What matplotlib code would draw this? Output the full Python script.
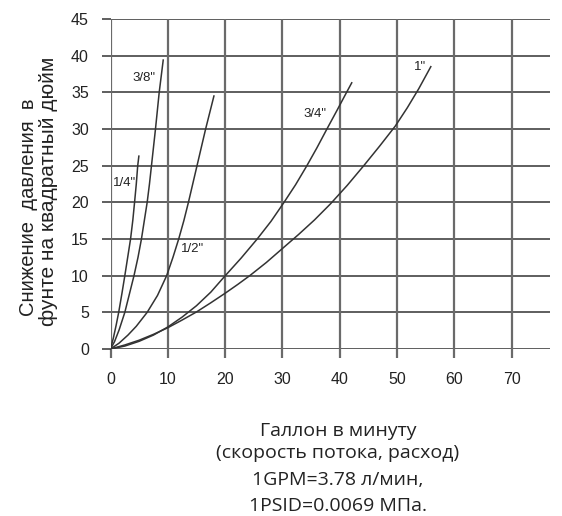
import matplotlib
matplotlib.use("Agg")
import matplotlib.pyplot as plt

# ---- data ----
x_quarter = [0, 0.5, 1.0, 1.43, 2.0, 2.5, 3.0, 3.5, 3.9, 4.2, 4.5, 4.75, 4.95]
y_quarter = [0, 1.5, 3.3, 5, 7.6, 10, 12.5, 15, 17.6, 20, 22.5, 25, 26.3]

x_three_eighths = [0, 0.7, 1.5, 2.5, 3.3, 4.1, 4.8, 5.4, 5.9, 6.4, 6.8, 7.15, 7.5, 7.85, 8.5, 9.2]
y_three_eighths = [0, 1, 2.6, 5, 7.5, 10, 12.5, 15, 17.5, 20, 22.5, 25, 27.5, 30, 35, 39.4]

x_half = [0, 1.5, 3.05, 4.5, 6.4, 8.2, 9.8, 10.9, 11.9, 12.8, 13.6, 14.35, 15.1, 16.6, 18.05]
y_half = [0, 0.8, 1.9, 3.1, 5, 7.3, 10, 12.5, 15, 17.5, 20, 22.5, 25, 30, 34.5]

x_three_quarter = [0, 2.5, 5, 7.5, 10, 12.5, 15, 17.5, 19.8, 22.8, 25.6, 28, 30.2,
                   32.3, 34.2, 36, 37.7, 39.5, 41.2, 42.1]
y_three_quarter = [0, 0.4, 1.05, 1.9, 3.0, 4.35, 5.9, 7.75, 9.8, 12.4, 15, 17.4, 19.9,
                   22.4, 24.9, 27.4, 29.9, 32.5, 35, 36.3]

x_one = [0, 2.5, 5, 7.5, 10, 12.5, 15, 17.5, 20, 22.2, 24.3, 27.2, 30, 32.8, 35.6,
         38.4, 41.3, 44.2, 47.0, 49.7, 51.8, 53.8, 55.9]
y_one = [0, 0.55, 1.2, 2.0, 2.9, 3.95, 5.05, 6.3, 7.6, 8.8, 10, 11.8, 13.7, 15.6, 17.6,
         19.8, 22.3, 25, 27.7, 30.4, 32.9, 35.5, 38.5]

curve_labels = ['1/4"', '3/8"', '1/2"', '3/4"', '1"']
label_pos = [(2.5, 22.6), (5.85, 37.0), (14.3, 13.6), (35.7, 32.0), (54.1, 38.4)]

x_ticks = [0, 10, 20, 30, 40, 50, 60, 70]
y_ticks = [0, 5, 10, 15, 20, 25, 30, 35, 40, 45]

y_label_lines = ["Снижение  давления  в", "фунте на квадратный дюйм"]
x_label_lines = ["Галлон в минуту", "(скорость потока, расход)",
                 "1GPM=3.78 л/мин,", "1PSID=0.0069 МПа."]

# ---- figure ----
fig = plt.figure(figsize=(5.62, 5.16), dpi=100)
ax = fig.add_axes([110.5 / 562, 1 - 349 / 516, (550 - 110.5) / 562, (349 - 19) / 516])
ax.set_xlim(0, 76.7)
ax.set_ylim(0, 45)

hcol = '#333333'
vcol = '#6a6a6a'
for yv in y_ticks:
    ax.axhline(yv, color=hcol, lw=1.1, zorder=1)
for xv in x_ticks:
    ax.axvline(xv, color=vcol, lw=1.6, zorder=1)

for s in ax.spines.values():
    s.set_visible(False)

ax.set_xticks(x_ticks)
ax.set_yticks(y_ticks)
ax.tick_params(axis='x', length=6.5, width=1.6, color=vcol, pad=10,
               labelsize=11.5)
ax.tick_params(axis='y', length=6.5, width=1.1, color=hcol, pad=9,
               labelsize=11.5)
for lab in ax.get_xticklabels() + ax.get_yticklabels():
    lab.set_fontfamily('Liberation Sans')
    lab.set_color('#222222')

ccol = '#333333'
for xs, ys in [(x_quarter, y_quarter), (x_three_eighths, y_three_eighths),
               (x_half, y_half), (x_three_quarter, y_three_quarter), (x_one, y_one)]:
    ax.plot(xs, ys, color=ccol, lw=1.1, zorder=3, solid_joinstyle='round')

for txt, (lx, ly) in zip(curve_labels, label_pos):
    ax.text(lx, ly, txt, fontsize=9.5, family='Liberation Sans', color='#222222',
            ha='center', va='center', zorder=4)

# y label: two lines, rotated
fig.text(29 / 562, 1 - 207 / 516, y_label_lines[0], rotation=90, ha='center',
         va='center', fontsize=14.5, family='Liberation Sans', color='#222222')
fig.text(49 / 562, 1 - 191 / 516, y_label_lines[1], rotation=90, ha='center',
         va='center', fontsize=15, family='Liberation Sans', color='#222222')

baselines = [436, 458, 485, 511]
for txt, b in zip(x_label_lines, baselines):
    fig.text(338 / 562, 1 - b / 516, txt, ha='center', va='baseline',
             fontsize=14, family='Open Sans', color='#222222')

fig.savefig('out.png', dpi=100)
